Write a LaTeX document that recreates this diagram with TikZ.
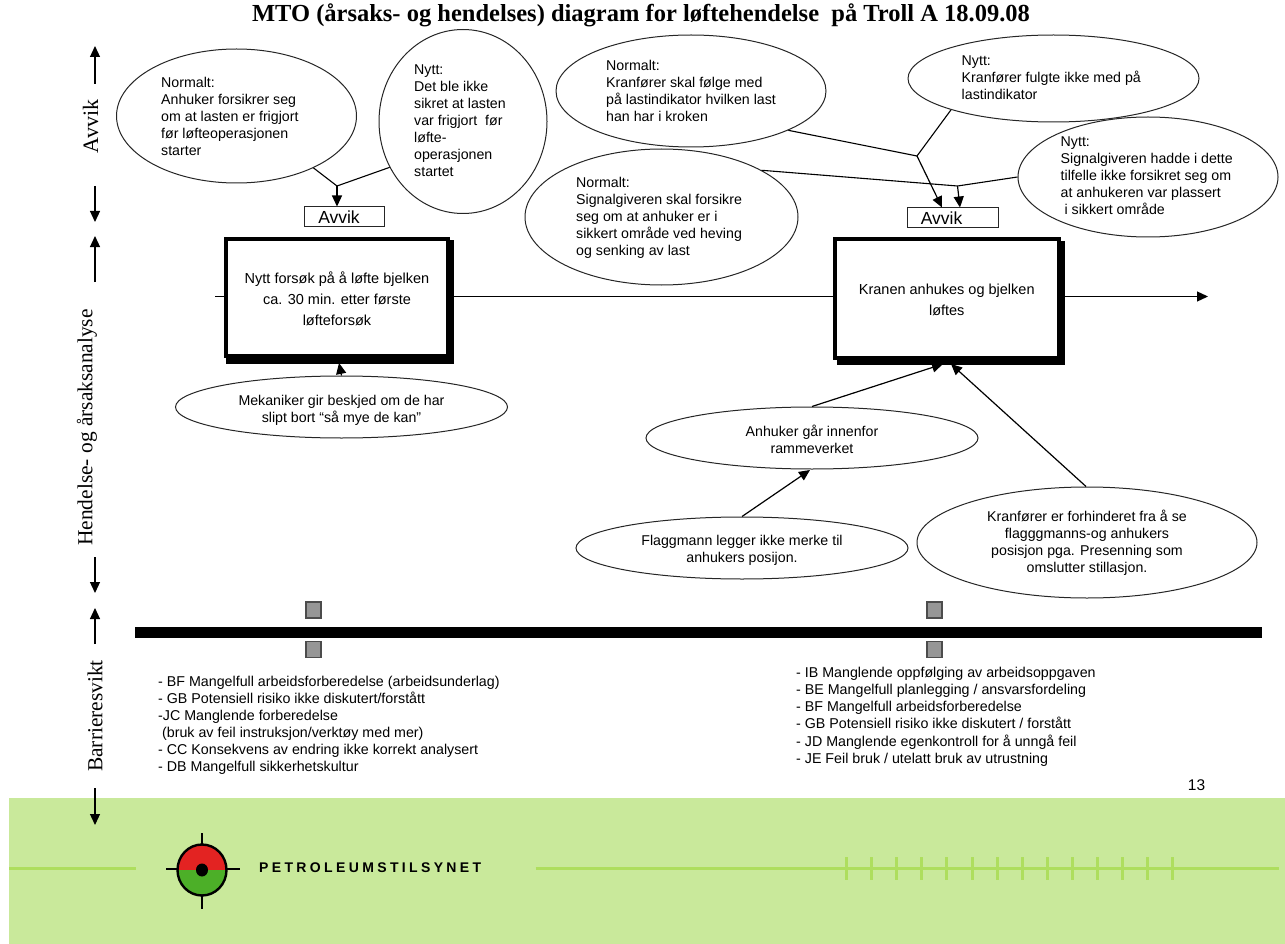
\documentclass[tikz,border=0pt]{standalone}
\usepackage{fontspec}
\setmainfont{Liberation Sans}
\newfontfamily\serifbold{Liberation Serif}
\newfontfamily\logofont[LetterSpace=24]{Liberation Sans}
\usetikzlibrary{shapes.geometric,arrows.meta}
\definecolor{panel}{HTML}{C9E99B}
\definecolor{panelline}{HTML}{AEDE5E}
\definecolor{sq}{HTML}{969696}
\definecolor{logored}{HTML}{E32322}
\definecolor{logogreen}{HTML}{4CAF28}
\tikzset{
  oval/.style={ellipse,draw=black!85,line width=1pt,fill=white,inner sep=0pt,minimum width=2*#1},
  oval/.default=100pt,
  lefttxt/.style={anchor=north west,inner sep=0pt,align=left,font=\fontsize{14.2}{17}\selectfont},
  midtxt/.style={inner sep=0pt,align=center,font=\fontsize{14.2}{17}\selectfont},
  listtxt/.style={anchor=north west,inner sep=0pt,align=left,font=\fontsize{14.25}{17}\selectfont},
  conn/.style={line width=1.1pt,black},
  arr/.style={line width=1.2pt,black,-{Triangle[length=11pt,width=10pt]}},
  sidearrow/.style={line width=1.2pt,black,-{Triangle[length=11pt,width=10pt]}},
  avvikbox/.style={draw=black!85,line width=1pt,fill=white,inner sep=0pt,font=\fontsize{17.5}{19}\selectfont},
  eventbox/.style={draw=black,line width=4pt,fill=white,inner sep=0pt},
  eventtxt/.style={inner sep=0pt,align=center,font=\fontsize{14.5}{21}\selectfont},
  sidetxt/.style={rotate=90,inner sep=0pt,font=\serifbold\fontsize{21.4}{23}\selectfont},
  marker/.style={draw=black!70,line width=1.2pt,fill=sq,minimum width=15pt,minimum height=16pt,inner sep=0pt},
}
\begin{document}
\begin{tikzpicture}[x=1pt,y=-1pt]
\useasboundingbox (0,0) rectangle (1285,944);
% panel
\fill[panel] (9,798) rectangle (1285,944);
\draw[panelline,line width=3pt] (9,868) -- (136,868);
\draw[panelline,line width=3pt] (535.5,868) -- (1279,868);
\foreach \i in {0,...,13} \draw[panelline,line width=3pt] ({846.5+\i*25.1},857) -- ({846.5+\i*25.1},880);
% logo
\draw[black,line width=2.8pt] (202,833) -- (202,909) (166,869) -- (239.6,869);
\fill[logored] (177.5,870) arc[start angle=180,end angle=0,x radius=24.5,y radius=-25.5] -- cycle;
\fill[logogreen] (177.5,870) arc[start angle=180,end angle=360,x radius=24.5,y radius=-25.5] -- cycle;
\draw[black,line width=2.4pt] (202,870) ellipse[x radius=24.5,y radius=25.5];
\fill[black] (202,870) ellipse[x radius=6,y radius=6.5];
\node[inner sep=0pt,anchor=west,font=\logofont\bfseries\fontsize{14}{15}\selectfont] (logotext) at (259,868) {PETROLEUMSTILSYNET};
% title
\node[inner sep=0pt,font=\serifbold\bfseries\fontsize{24.5}{26}\selectfont] (title) at (641,15) {MTO (årsaks- og hendelses) diagram for løftehendelse\ \ på Troll A 18.09.08};
% side
\node[sidetxt,font=\serifbold\fontsize{22}{23}\selectfont] (savvik) at (90.5,126.5) {Avvik};
\node[sidetxt] (shend) at (87,427.5) {Hendelse- og årsaksanalyse};
\node[sidetxt] (sbarr) at (95,716) {Barrieresvikt};
\coordinate (a1a) at (95,84); \coordinate (a1b) at (95,46);
\coordinate (a2a) at (95,186); \coordinate (a2b) at (95,222);
\coordinate (a3a) at (95,282); \coordinate (a3b) at (95,236);
\coordinate (a4a) at (95,557); \coordinate (a4b) at (95,593);
\coordinate (a5a) at (95,644); \coordinate (a5b) at (95,608);
\coordinate (a6a) at (95,788); \coordinate (a6b) at (95,825);
\foreach \p/\q in {a1a/a1b,a2a/a2b,a3a/a3b,a4a/a4b,a5a/a5b,a6a/a6b} \draw[sidearrow] (\p) -- (\q);
% main line
\coordinate (mainstart) at (215,296.5);
\coordinate (mainend) at (1208,296.5);
\draw[arr] (mainstart) -- (mainend);
% boxes
\fill[black] (226,240) rectangle (454,364);
\fill[black] (837,241) rectangle (1065,365);
\node[eventbox,minimum width=222pt,minimum height=117pt] (box1) at (337,297.5) {};
\node[eventbox,minimum width=223.5pt,minimum height=118.5pt] (box2) at (946.75,298.75) {};
\node[eventtxt] (tb1) at (337,299) {Nytt forsøk på å løfte bjelken\\ca. 30 min. etter første\\løfteforsøk};
\node[eventtxt] (tb2) at (946.75,300) {Kranen anhukes og bjelken\\løftes};
% ellipses
\node[oval=120pt,minimum height=134pt] (e1) at (236.5,116) {};
\node[oval=84pt,minimum height=184pt] (e2) at (463,121.5) {};
\node[oval=135pt,minimum height=112pt] (e3) at (691,91) {};
\node[oval=145.5pt,minimum height=87pt] (e4) at (1053.5,78.5) {};
\node[oval=130pt,minimum height=120pt] (e5) at (1148,177) {};
\node[oval=136.5pt,minimum height=136pt] (e6) at (661.5,217) {};
\node[oval=166pt,minimum height=62pt] (e10) at (341.5,407) {};
\node[oval=166pt,minimum height=62pt] (e7) at (812,438) {};
\node[oval=166pt,minimum height=62pt] (e8) at (742,548) {};
\node[oval=170pt,minimum height=111pt] (e9) at (1087,542.5) {};
% texts
\node[lefttxt] (t1) at (161,77) {Normalt:\\Anhuker forsikrer seg\\om at lasten er frigjort\\før løfteoperasjonen\\starter};
\node[lefttxt] (t2) at (414,65) {Nytt:\\Det ble ikke\\sikret at lasten\\var frigjort\ \ før\\løfte-\\operasjonen\\startet};
\node[lefttxt] (t3) at (606,60) {Normalt:\\Kranfører skal følge med\\på lastindikator hvilken last\\han har i kroken};
\node[lefttxt] (t4) at (961.5,56) {Nytt:\\Kranfører fulgte ikke med på\\lastindikator};
\node[lefttxt] (t5) at (1060.5,137) {Nytt:\\Signalgiveren hadde i dette\\tilfelle ikke forsikret seg om\\at anhukeren var plassert\\\ i sikkert område};
\node[lefttxt] (t6) at (576,177) {Normalt:\\Signalgiveren skal forsikre\\seg om at anhuker er i\\sikkert område ved heving\\og senking av last};
\node[midtxt] (t10) at (341.5,410) {Mekaniker gir beskjed om de har\\slipt bort “så mye de kan”};
\node[midtxt] (t7) at (812,439) {Anhuker går innenfor\\rammeverket};
\node[midtxt] (t8) at (742,550.5) {Flaggmann legger ikke merke til\\anhukers posijon.};
\node[midtxt] (t9) at (1087,543) {Kranfører er forhinderet fra å se\\flagggmanns-og anhukers\\posisjon pga. Presenning som\\omslutter stillasjon.};
% avvik boxes
\node[avvikbox,minimum width=80pt,minimum height=20pt] (av1) at (344,217) {\mbox{Avvik\kern10pt}};
\node[avvikbox,minimum width=91pt,minimum height=20pt] (av2) at (952.5,218) {\mbox{Avvik\kern22pt}};
% connectors
\coordinate (j1) at (337,186);
\coordinate (j2) at (917,156);
\coordinate (j3) at (957.5,186);
\coordinate (tip1) at (339,363);
\coordinate (tip2) at (943,364);
\coordinate (tip3) at (951,364);
\coordinate (tip4) at (810,470);
\coordinate (tip5) at (942,207.5);
\coordinate (tip6) at (960,207.5);
\draw[conn] (e1.-34) -- (j1);
\draw[conn] (e2.212) -- (j1);
\draw[arr] (j1) -- (av1.north -| j1);
\draw[conn] (e3.-22.3) -- (j2);
\draw[conn] (e4.197) -- (j2);
\draw[arr] (j2) -- (tip5);
\draw[conn] (e6.25) -- (j3);
\draw[conn] (e5.180) -- (j3);
\draw[arr] (j3) -- (tip6);
\draw[arr] (e10.90) -- (tip1);
\draw[arr] (e7.90) -- (tip2);
\draw[arr] (e9.91) -- (tip3);
\draw[arr] (e8.90) -- (tip4);
% barrier
\node[fill=black,minimum width=1127pt,minimum height=11pt,inner sep=0pt] (bar) at (698.5,632) {};
\node[marker] (m1) at (313.5,610) {};
\node[marker] (m2) at (313.5,649.5) {};
\node[marker] (m3) at (934.5,610) {};
\node[marker] (m4) at (934.5,649.5) {};
% lists
\node[listtxt] (l1) at (158,675.5) {- BF Mangelfull arbeidsforberedelse (arbeidsunderlag)\\- GB Potensiell risiko ikke diskutert/forstått\\-JC Manglende forberedelse\\\ (bruk av feil instruksjon/verktøy med mer)\\- CC Konsekvens av endring ikke korrekt analysert\\- DB Mangelfull sikkerhetskultur};
\node[listtxt] (l2) at (796,667) {- IB Manglende oppfølging av arbeidsoppgaven\\- BE Mangelfull planlegging / ansvarsfordeling\\- BF Mangelfull arbeidsforberedelse\\- GB Potensiell risiko ikke diskutert / forstått\\[1pt]- JD Manglende egenkontroll for å unngå feil\\- JE Feil bruk / utelatt bruk av utrustning};
\node[inner sep=0pt,font=\fontsize{15.5}{17}\selectfont] (pg) at (1196.5,785) {13};
\end{tikzpicture}
\end{document}
